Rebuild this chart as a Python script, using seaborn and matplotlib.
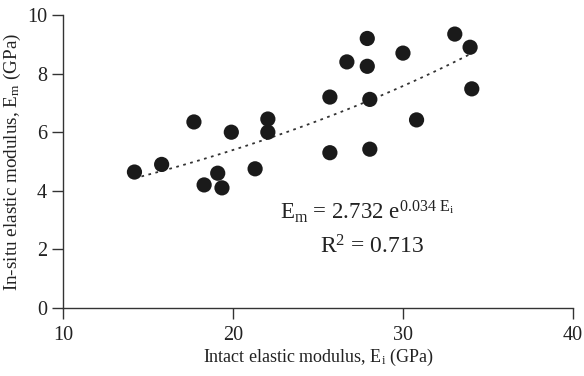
import numpy as np
import pandas as pd
import matplotlib
matplotlib.use("Agg")
import matplotlib.pyplot as plt
import seaborn as sns

# intact modulus Ei (GPa) and in-situ modulus Em (GPa)
ei = [14.2, 15.8, 17.7, 18.3, 19.1, 19.35, 19.9, 21.3, 22.05, 22.05,
      25.7, 25.7, 26.7, 27.9, 27.9, 28.05, 28.05, 30.0, 30.8, 33.05, 33.95, 34.05]
em = [4.64, 4.9, 6.35, 4.2, 4.6, 4.1, 6.0, 4.75, 6.45, 6.0,
      7.2, 5.3, 8.4, 9.2, 8.25, 7.12, 5.42, 8.7, 6.42, 9.35, 8.9, 7.48]

# exponential fit printed on the chart
fit_a = 2.732
fit_b = 0.034
fit_range = (14.2, 34.05)


def main():
	sns.set_style("ticks")
	plt.rcParams['font.family'] = ['Liberation Serif', 'DejaVu Serif']
	plt.rcParams['mathtext.fontset'] = 'custom'
	plt.rcParams['mathtext.rm'] = 'Liberation Serif'
	plt.rcParams['mathtext.it'] = 'Liberation Serif'

	data = pd.DataFrame({'Ei': ei, 'Em': em})
	xs = np.linspace(fit_range[0], fit_range[1], 100)
	trend = pd.DataFrame({'Ei': xs, 'Em': fit_a * np.exp(fit_b * xs)})

	fig = plt.figure(figsize=(5.84, 3.76), dpi=100)
	ax = fig.add_axes([0.108, 0.181, 0.873, 0.779])

	sns.lineplot(x='Ei', y='Em', data=trend, ax=ax, color='#333333',
				 linestyle=(0, (1.5, 2.5)), linewidth=1.3)
	sns.scatterplot(x='Ei', y='Em', data=data, ax=ax, color='#1a1a1a',
					s=120, edgecolor='none', zorder=3)

	ax.set_xlim(10, 40)
	ax.set_ylim(0, 10)
	ax.set_xticks([10, 20, 30, 40])
	ax.set_yticks([0, 2, 4, 6, 8, 10])
	sns.despine(ax=ax)
	for s in ['left', 'bottom']:
		ax.spines[s].set_color('#333333')
		ax.spines[s].set_linewidth(1.0)
	ax.tick_params(direction='out', length=8, width=1.0, colors='#333333',
				   labelsize=14.5, labelcolor='#222222')
	ax.tick_params(axis='x', pad=5)

	ax.set_xlabel(r'Intact elastic modulus, E$_\mathrm{i}$ (GPa)', fontsize=13,
				  color='#222222', labelpad=1)
	ax.set_ylabel(r'In-situ elastic modulus, E$_\mathrm{m}$ (GPa)', fontsize=13.8,
				  color='#222222', labelpad=3)

	ax.text(27.9, 3.3, r'E$_\mathrm{m}$ = 2.732 e$^{0.034\ \mathrm{E_i}}$',
			fontsize=16.5, ha='center', va='center', color='#222222')
	ax.text(28.2, 2.1, r'R$^2$ = 0.713', fontsize=17, ha='center',
			va='center', color='#222222')

	fig.savefig('out.png', dpi=100)


if __name__ == "__main__":
	main()
